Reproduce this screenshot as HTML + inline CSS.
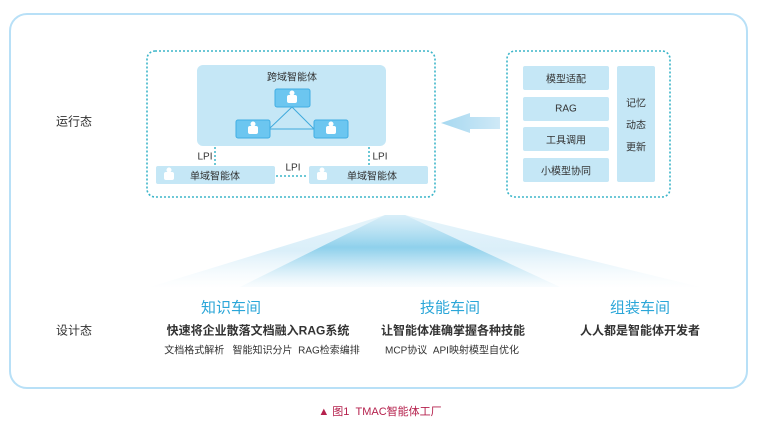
<!DOCTYPE html>
<html><head><meta charset="utf-8"><style>
body{margin:0;width:758px;height:428px;background:#fff;overflow:hidden;position:relative;font-family:"Liberation Sans","Noto Sans CJK SC",sans-serif;color:#333}
.a{position:absolute}
.t{position:absolute;white-space:nowrap;transform:translate(-50%,-50%)}
</style></head><body>
<svg class="a" style="left:0;top:0" width="758" height="428">
<defs>
<linearGradient id="g" x1="0" y1="0" x2="0" y2="1">
<stop offset="0" stop-color="#cfeaf7" stop-opacity="0.6"/>
<stop offset="0.45" stop-color="#86cdea" stop-opacity="0.9"/>
<stop offset="1" stop-color="#cfeaf7" stop-opacity="0.1"/>
</linearGradient>
<linearGradient id="g2" x1="0" y1="0" x2="0" y2="1">
<stop offset="0" stop-color="#d5edf8" stop-opacity="0.6"/>
<stop offset="0.5" stop-color="#c2e4f5" stop-opacity="0.6"/>
<stop offset="1" stop-color="#eaf6fc" stop-opacity="0.05"/>
</linearGradient>
<linearGradient id="ar" x1="1" y1="0" x2="0" y2="0">
<stop offset="0" stop-color="#cfe9f7"/><stop offset="1" stop-color="#a6d8f0"/>
</linearGradient>
</defs>
<rect x="10" y="14" width="737" height="374" rx="17" fill="none" stroke="#b8e0f7" stroke-width="2"/>
<polygon points="385,215 405,215 700,287 150,287" fill="url(#g2)"/>
<polygon points="385,215 405,215 560,287 240,287" fill="url(#g)"/>
<rect x="147" y="51" width="288" height="146" rx="8" fill="none" stroke="#3cb5c9" stroke-width="1.6" stroke-dasharray="2,2"/>
<rect x="507" y="51" width="163" height="146" rx="8" fill="none" stroke="#3cb5c9" stroke-width="1.6" stroke-dasharray="2,2"/>
<rect x="197" y="65" width="189" height="81" rx="6" fill="#c5e7f6"/>
<line x1="292" y1="107" x2="269" y2="129" stroke="#3fa9dc" stroke-width="1"/>
<line x1="292" y1="107" x2="314" y2="129" stroke="#3fa9dc" stroke-width="1"/>
<line x1="269" y1="129" x2="314" y2="129" stroke="#3fa9dc" stroke-width="1"/>
<rect x="275" y="89" width="35" height="18" rx="2" fill="#6cc6f0" stroke="#41aee3"/>
<rect x="236" y="120" width="34" height="18" rx="2" fill="#6cc6f0" stroke="#41aee3"/>
<rect x="314" y="120" width="34" height="18" rx="2" fill="#6cc6f0" stroke="#41aee3"/>
<g fill="#fff">
<circle cx="292" cy="93" r="2.5"/><rect x="287" y="95" width="10" height="8" rx="2"/>
<circle cx="253" cy="124" r="2.5"/><rect x="248" y="126" width="10" height="8" rx="2"/>
<circle cx="331" cy="124" r="2.5"/><rect x="326" y="126" width="10" height="8" rx="2"/>
</g>
<rect x="156" y="166" width="119" height="18" rx="2" fill="#c5e7f6"/>
<rect x="309" y="166" width="119" height="18" rx="2" fill="#c5e7f6"/>
<g fill="#fff"><circle cx="169" cy="170" r="2.5"/><rect x="164" y="172" width="10" height="8" rx="2"/>
<circle cx="322" cy="170" r="2.5"/><rect x="317" y="172" width="10" height="8" rx="2"/></g>
<g stroke="#3cb5c9" stroke-width="1.5" stroke-dasharray="2,2">
<line x1="215" y1="147" x2="215" y2="166"/><line x1="369" y1="147" x2="369" y2="166"/>
<line x1="276" y1="176" x2="308" y2="176"/></g>
<g fill="#c5e7f6">
<rect x="523" y="66" width="86" height="24" rx="2"/>
<rect x="523" y="97" width="86" height="24" rx="2"/>
<rect x="523" y="127" width="86" height="24" rx="2"/>
<rect x="523" y="158" width="86" height="24" rx="2"/>
<rect x="617" y="66" width="38" height="116" rx="2"/>
</g>
<polygon points="500,117 470,117 470,113 441,123 470,133 470,129 500,129" fill="url(#ar)"/>
</svg>
<div class="t" style="left:292px;top:76px;font-size:10px">跨域智能体</div>
<div class="t" style="left:215px;top:175px;font-size:10px">单域智能体</div>
<div class="t" style="left:372px;top:175px;font-size:10px">单域智能体</div>
<div class="t" style="left:205px;top:157px;font-size:10px">LPI</div>
<div class="t" style="left:380px;top:157px;font-size:10px">LPI</div>
<div class="t" style="left:293px;top:168px;font-size:10px">LPI</div>
<div class="t" style="left:566px;top:78px;font-size:10px">模型适配</div>
<div class="t" style="left:566px;top:109px;font-size:10px">RAG</div>
<div class="t" style="left:566px;top:139px;font-size:10px">工具调用</div>
<div class="t" style="left:566px;top:170px;font-size:10px">小模型协同</div>
<div class="t" style="left:636px;top:102px;font-size:10px">记忆</div>
<div class="t" style="left:636px;top:124px;font-size:10px">动态</div>
<div class="t" style="left:636px;top:146px;font-size:10px">更新</div>
<div class="t" style="left:74px;top:121px;font-size:12px">运行态</div>
<div class="t" style="left:74px;top:330px;font-size:12px">设计态</div>
<div class="t" style="left:231px;top:307px;font-size:15px;color:#2aa6d8">知识车间</div>
<div class="t" style="left:450px;top:307px;font-size:15px;color:#2aa6d8">技能车间</div>
<div class="t" style="left:640px;top:307px;font-size:15px;color:#2aa6d8">组装车间</div>
<div class="t" style="left:258px;top:330px;font-size:12px;font-weight:bold">快速将企业散落文档融入RAG系统</div>
<div class="t" style="left:453px;top:330px;font-size:12px;font-weight:bold">让智能体准确掌握各种技能</div>
<div class="t" style="left:640px;top:330px;font-size:12px;font-weight:bold">人人都是智能体开发者</div>
<div class="t" style="left:262px;top:349px;font-size:10px">文档格式解析&nbsp;&nbsp;&nbsp;智能知识分片&nbsp;&nbsp;RAG检索编排</div>
<div class="t" style="left:452px;top:349px;font-size:10px">MCP协议&nbsp;&nbsp;API映射模型自优化</div>
<div class="t" style="left:380px;top:411px;font-size:11px;color:#b5214d">▲ 图1&nbsp;&nbsp;TMAC智能体工厂</div>
</body></html>
